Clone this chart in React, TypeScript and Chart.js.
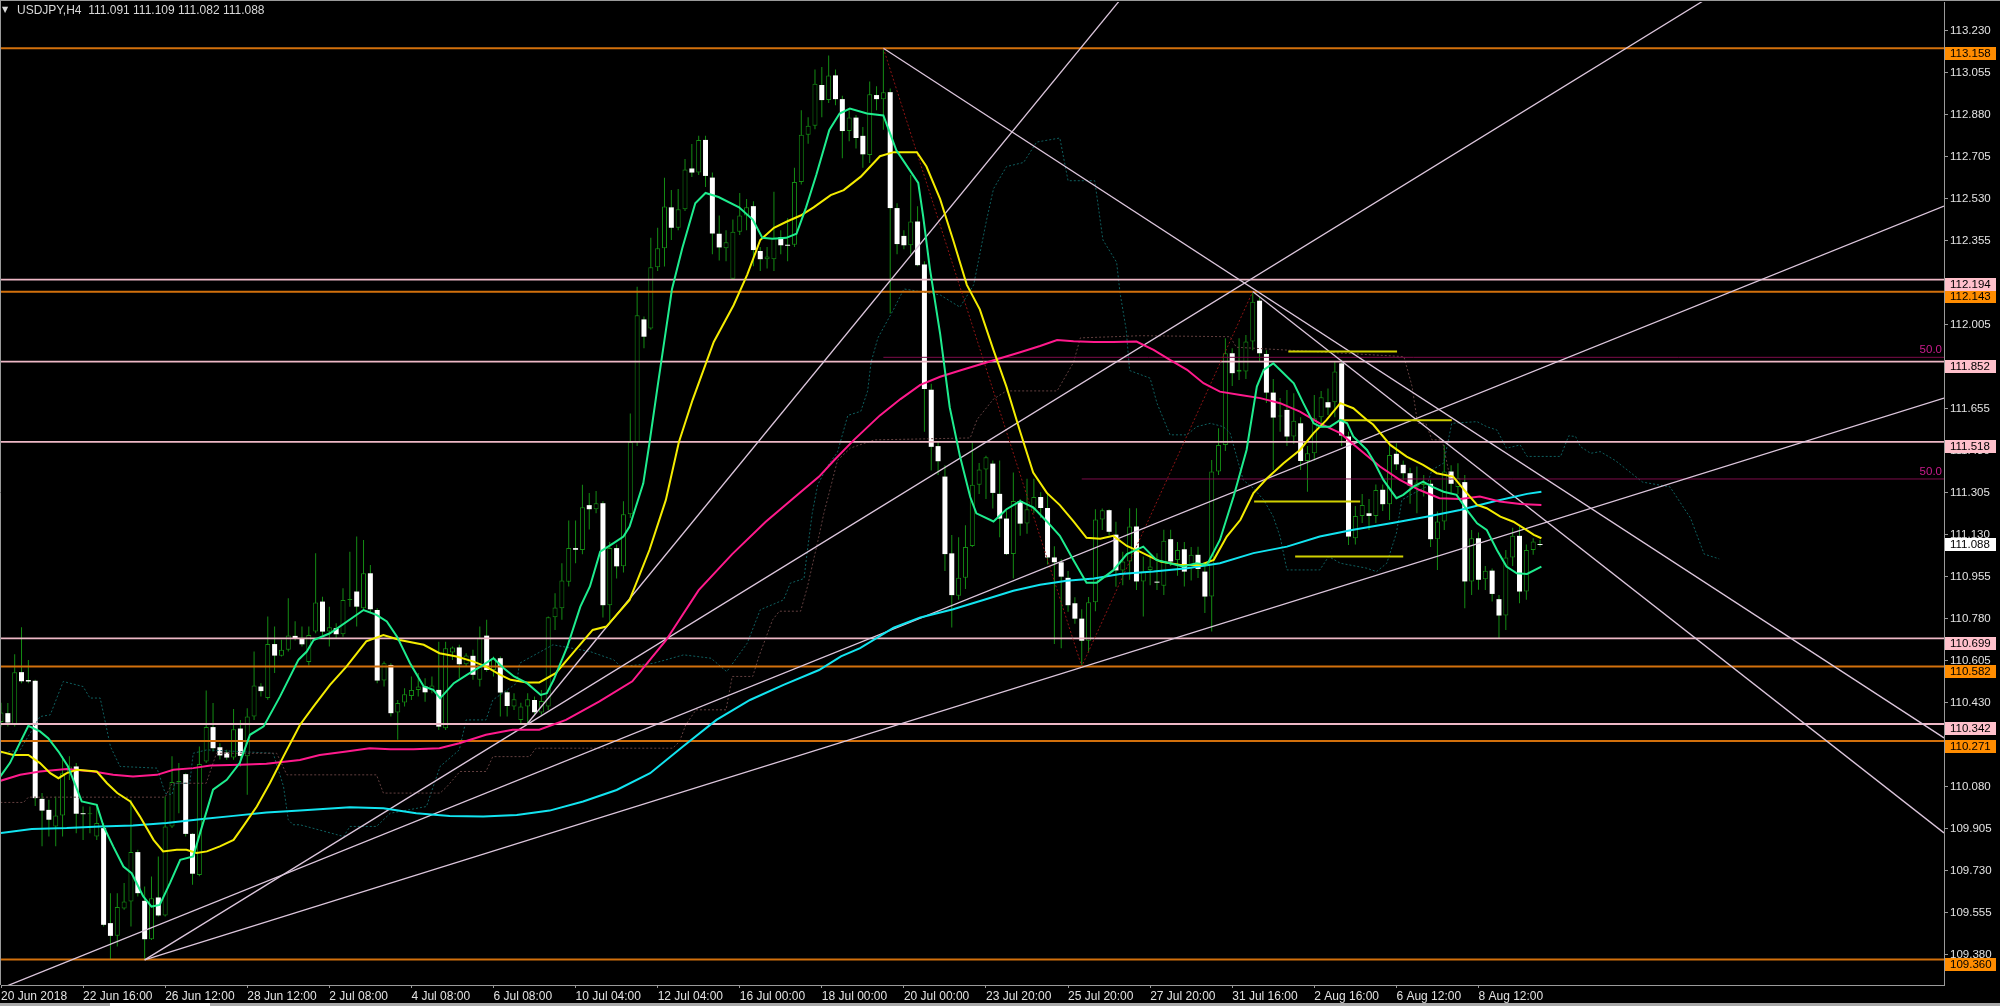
import React, { useEffect, useRef } from "react";
import { Chart, registerables } from "chart.js";

Chart.register(...registerables);

// ---------------- DATA ----------------
const TITLE = "USDJPY,H4  111.091 111.109 111.082 111.088";

const openP = [
110.350,110.387,110.341,110.558,110.525,110.522,110.030,109.984,109.915,109.961,
110.137,110.165,109.970,109.966,109.873,109.908,109.512,109.459,109.573,109.602,
109.808,109.605,109.445,109.619,109.544,109.915,110.100,110.133,109.884,109.713,
110.186,110.329,110.245,110.223,110.202,110.323,110.207,110.373,110.498,110.450,
110.675,110.626,110.651,110.709,110.697,110.600,110.727,110.852,110.727,110.741,
110.716,110.859,110.894,110.824,110.970,110.817,110.523,110.588,110.390,110.431,
110.459,110.484,110.498,110.484,110.484,110.324,110.640,110.661,110.591,110.626,
110.526,110.710,110.567,110.616,110.474,110.415,110.359,110.415,110.442,110.390,
110.415,110.787,110.824,110.935,111.075,111.067,111.254,111.237,111.262,110.837,
111.075,110.999,111.216,111.517,112.028,111.990,112.245,112.325,112.495,112.410,
112.487,112.657,112.640,112.776,112.619,112.385,112.325,112.197,112.393,112.461,
112.500,112.313,112.279,112.279,112.370,112.339,112.339,112.601,112.798,112.835,
113.005,112.942,113.045,112.946,112.813,112.869,112.793,112.713,112.963,112.946,
112.975,112.492,112.376,112.337,112.436,112.257,111.735,111.500,111.373,111.053,
110.876,110.951,111.084,111.339,111.403,111.427,111.301,111.198,111.050,111.271,
111.177,111.237,111.288,111.242,111.036,111.016,110.951,110.845,110.781,110.689,
110.849,111.194,111.233,111.131,110.982,111.019,111.165,110.936,110.984,110.933,
110.918,111.112,111.025,111.070,110.991,111.047,110.977,110.873,111.394,111.505,
111.887,111.810,111.811,111.936,112.106,111.884,111.723,111.623,111.651,111.540,
111.595,111.438,111.470,111.620,111.683,111.683,111.845,111.540,111.116,111.209,
111.220,111.209,111.318,111.258,111.468,111.422,111.387,111.331,111.338,111.343,
111.112,111.186,111.394,111.330,111.350,110.936,111.116,110.945,110.981,110.862,
110.794,111.036,111.126,110.894,111.067,111.091
];

const highP = [
110.430,110.429,110.633,110.745,110.609,110.526,110.054,110.026,110.040,110.207,
110.207,110.179,109.998,109.998,110.000,109.929,109.637,109.637,109.679,110.026,
109.818,109.665,109.706,109.790,110.040,110.207,110.179,110.137,109.887,110.248,
110.482,110.429,110.262,110.235,110.404,110.359,110.408,110.644,110.512,110.790,
110.748,110.693,110.866,110.770,110.748,110.748,111.054,110.872,110.831,110.762,
110.908,111.060,111.123,111.109,111.005,110.824,110.602,110.595,110.442,110.491,
110.540,110.554,110.533,110.540,110.685,110.685,110.665,110.672,110.637,110.651,
110.748,110.776,110.623,110.623,110.480,110.470,110.430,110.470,110.456,110.484,
110.790,110.887,111.012,111.190,111.190,111.339,111.305,111.313,111.270,111.100,
111.090,111.270,111.636,112.164,112.040,112.368,112.410,112.618,112.567,112.572,
112.696,112.759,112.793,112.793,112.640,112.461,112.400,112.444,112.555,112.530,
112.520,112.330,112.330,112.560,112.400,112.450,112.660,112.900,112.870,113.070,
113.080,113.128,113.070,112.960,112.900,112.880,112.830,113.020,113.000,113.158,
112.990,112.512,112.400,112.630,112.500,112.270,111.760,111.520,111.420,111.130,
111.120,111.170,111.517,111.430,111.460,111.440,111.440,111.230,111.390,111.280,
111.364,111.364,111.308,111.308,111.083,111.030,110.980,110.870,110.820,110.871,
111.237,111.240,111.237,111.185,111.060,111.241,111.241,111.040,111.050,111.053,
111.151,111.151,111.100,111.100,111.080,111.081,111.000,111.442,111.574,111.950,
111.908,111.950,111.963,112.144,112.120,111.900,111.780,111.700,111.734,111.720,
111.620,111.500,111.713,111.730,111.740,111.850,111.860,111.560,111.250,111.300,
111.280,111.340,111.340,111.512,111.512,111.440,111.410,111.415,111.380,111.360,
111.227,111.505,111.420,111.429,111.380,111.150,111.140,111.000,110.990,110.880,
111.067,111.160,111.165,111.090,111.116,111.109
];

const lowP = [
110.330,110.332,110.332,110.512,110.512,110.000,109.832,109.873,109.832,109.873,
110.109,109.887,109.859,109.887,109.859,109.498,109.359,109.415,109.568,109.498,
109.623,109.359,109.442,109.540,109.540,109.908,109.970,109.873,109.672,109.707,
110.179,110.227,110.194,110.193,110.193,110.165,110.047,110.359,110.457,110.443,
110.554,110.623,110.644,110.690,110.665,110.586,110.720,110.713,110.665,110.700,
110.706,110.831,110.748,110.820,110.804,110.512,110.498,110.373,110.276,110.415,
110.442,110.456,110.435,110.470,110.317,110.317,110.609,110.533,110.581,110.526,
110.498,110.560,110.540,110.373,110.373,110.400,110.345,110.345,110.380,110.380,
110.400,110.734,110.776,110.915,111.012,111.049,111.152,111.220,110.786,110.769,
110.948,110.973,111.200,111.500,111.908,111.985,112.230,112.249,112.359,112.400,
112.480,112.622,112.630,112.580,112.300,112.274,112.270,112.197,112.380,112.400,
112.250,112.230,112.240,112.230,112.300,112.270,112.330,112.590,112.760,112.820,
112.870,112.930,112.920,112.700,112.770,112.740,112.660,112.680,112.900,112.818,
112.053,112.300,112.320,112.300,112.250,111.560,111.398,111.380,110.980,110.744,
110.860,110.905,111.080,111.300,111.280,111.240,111.120,111.046,110.948,111.126,
111.135,111.220,111.200,111.007,110.675,110.658,110.810,110.760,110.582,110.640,
110.812,111.150,111.130,110.914,110.920,110.943,110.900,110.790,110.920,110.900,
110.880,111.000,110.960,110.915,110.940,110.950,110.804,110.727,111.380,111.480,
111.750,111.776,111.780,111.900,111.850,111.680,111.400,111.560,111.500,111.510,
111.400,111.310,111.440,111.580,111.630,111.620,111.500,111.088,111.090,111.180,
111.150,111.180,111.230,111.192,111.400,111.360,111.260,111.220,111.290,111.080,
110.984,111.150,111.300,111.300,110.824,110.880,110.901,110.900,110.852,110.700,
110.734,111.000,110.845,110.860,111.047,111.082
];

const closeP = [
110.390,110.348,110.558,110.520,110.519,110.033,109.981,109.943,109.961,110.137,
110.165,109.968,109.966,109.968,109.929,109.505,109.459,109.579,109.602,109.808,
109.637,109.445,109.616,109.544,109.915,110.100,110.104,109.884,109.718,110.175,
110.329,110.241,110.211,110.202,110.320,110.209,110.373,110.502,110.479,110.675,
110.627,110.651,110.711,110.697,110.674,110.713,110.848,110.727,110.745,110.716,
110.859,110.862,110.831,110.970,110.820,110.523,110.595,110.387,110.429,110.466,
110.484,110.498,110.474,110.502,110.331,110.658,110.661,110.591,110.627,110.547,
110.699,110.567,110.616,110.473,110.417,110.445,110.415,110.445,110.391,110.438,
110.787,110.827,110.940,111.075,111.068,111.245,111.237,111.262,110.837,111.075,
110.999,111.216,111.517,112.045,111.956,112.245,112.325,112.499,112.410,112.487,
112.653,112.640,112.776,112.626,112.386,112.328,112.350,112.393,112.461,112.495,
112.317,112.279,112.290,112.368,112.337,112.335,112.601,112.798,112.835,113.010,
112.942,113.045,112.946,112.813,112.869,112.784,112.716,112.966,112.946,112.975,
112.492,112.342,112.337,112.436,112.254,111.738,111.497,111.437,111.050,110.879,
110.951,111.080,111.339,111.403,111.454,111.305,111.198,111.050,111.271,111.177,
111.237,111.288,111.242,111.036,111.016,110.956,110.837,110.781,110.689,110.849,
111.194,111.233,111.143,110.982,111.019,111.165,110.936,110.977,110.998,110.931,
111.106,111.019,111.067,110.977,111.047,110.988,110.873,111.394,111.505,111.887,
111.804,111.818,111.936,112.102,111.887,111.723,111.619,111.625,111.540,111.606,
111.438,111.470,111.616,111.704,111.661,111.811,111.544,111.123,111.209,111.255,
111.209,111.317,111.258,111.463,111.424,111.387,111.336,111.348,111.345,111.112,
111.186,111.394,111.343,111.366,110.936,111.116,110.943,110.981,110.884,110.794,
111.036,111.126,110.894,111.067,111.102,111.088
];

const xTickBars = [0,12,24,36,48,60,72,84,96,108,120,132,144,156,168,180,192,204,216];
const xTickLabels = ["20 Jun 2018","22 Jun 16:00","26 Jun 12:00","28 Jun 12:00","2 Jul 08:00","4 Jul 08:00","6 Jul 08:00","10 Jul 04:00","12 Jul 04:00","16 Jul 00:00","18 Jul 00:00","20 Jul 00:00","23 Jul 20:00","25 Jul 20:00","27 Jul 20:00","31 Jul 16:00","2 Aug 16:00","6 Aug 12:00","8 Aug 12:00"];
const yTickValues = [109.380,109.555,109.730,109.905,110.080,110.255,110.430,110.605,110.780,110.955,111.130,111.305,111.480,111.655,111.830,112.005,112.180,112.355,112.530,112.705,112.880,113.055,113.230];

const orangeLevels = [113.158, 112.143, 110.582, 110.271, 109.360];
const pinkLevels = [112.194, 111.852, 111.518, 110.699, 110.342];
const currentPrice = 111.088;

const fibStartBars = [129, 158];
const fibLevels = [111.870, 111.363];
const fibLabel = "50.0";

// trend lines: [bar, price] start and end
const trendLines: [number, number][][] = [
  [[77, 110.345], [180, 113.930]],
  [[21, 109.359], [284.06, 113.973]],
  [[-3, 109.206], [284.06, 112.500]],
  [[21, 109.359], [284.06, 111.700]],
  [[129, 113.158], [284.06, 110.284]],
  [[183, 112.144], [284.06, 109.888]],
];

const yellowStartBars = [188.2, 195.6, 183.2, 189.2];
const yellowEndBars = [204.1, 212.1, 198.7, 205.0];
const yellowLevels = [111.894, 111.608, 111.269, 111.040];

const zigzagPts: [number, number][] = [[129, 113.158], [158, 110.582], [183, 112.144]];

const greenMa: [number, number][] = [[-0.1,110.123],[1.3,110.179],[4.0,110.334],[5.7,110.311],[6.9,110.283],[8.4,110.227],[9.8,110.165],[11.8,110.019],[14.0,110.005],[15.0,109.915],[16.4,109.832],[17.9,109.748],[19.1,109.720],[20.8,109.623],[22.0,109.581],[23.2,109.588],[24.7,109.679],[26.2,109.776],[28.1,109.790],[29.1,109.887],[31.0,110.068],[33.0,110.109],[34.9,110.179],[36.4,110.297],[38.4,110.332],[40.8,110.457],[43.5,110.610],[44.7,110.644],[45.7,110.692],[48.1,110.720],[53.0,110.817],[54.9,110.797],[56.4,110.769],[57.9,110.706],[59.8,110.595],[61.8,110.498],[63.2,110.484],[64.2,110.449],[66.2,110.512],[68.1,110.547],[70.1,110.581],[72.0,110.616],[73.5,110.574],[75.0,110.540],[76.9,110.512],[78.9,110.463],[79.8,110.470],[80.8,110.526],[82.8,110.665],[84.7,110.831],[86.1,110.915],[87.6,111.060],[89.5,111.095],[91.0,111.123],[91.9,111.165],[93.9,111.345],[94.8,111.512],[96.0,111.750],[98.1,112.155],[99.6,112.325],[101.5,112.512],[103.0,112.555],[104.9,112.538],[107.9,112.495],[109.9,112.444],[111.3,112.368],[112.8,112.364],[114.8,112.368],[116.3,112.385],[117.7,112.495],[119.2,112.631],[121.1,112.818],[122.6,112.886],[124.1,112.907],[126.6,112.886],[129.0,112.878],[130.9,112.733],[132.9,112.648],[134.1,112.597],[134.8,112.461],[135.8,112.240],[137.3,111.968],[138.7,111.662],[140.2,111.458],[141.7,111.288],[142.6,111.220],[145.1,111.186],[147.0,111.237],[149.0,111.271],[150.9,111.245],[152.9,111.186],[154.8,111.126],[156.8,111.024],[158.7,110.931],[160.2,110.931],[162.6,110.982],[164.6,111.050],[167.0,111.081],[168.9,111.026],[170.9,111.012],[172.8,110.998],[174.8,111.012],[176.3,111.005],[178.2,111.109],[180.2,111.290],[182.1,111.484],[183.6,111.748],[184.6,111.818],[186.0,111.845],[187.5,111.804],[189.0,111.762],[190.4,111.679],[191.9,111.595],[192.9,111.581],[194.3,111.581],[195.8,111.609],[196.8,111.595],[197.7,111.540],[199.7,111.484],[200.6,111.442],[202.1,111.359],[204.0,111.283],[205.0,111.297],[206.5,111.331],[207.9,111.352],[209.2,111.331],[210.9,111.310],[212.8,111.297],[214.3,111.234],[215.8,111.178],[217.2,111.151],[218.7,111.067],[220.1,110.998],[221.6,110.970],[223.1,110.967],[225.2,110.998]];

const yellowMa: [number, number][] = [[-0.1,110.227],[1.8,110.213],[4.0,110.213],[5.7,110.179],[7.2,110.137],[8.4,110.116],[9.6,110.137],[11.1,110.151],[14.0,110.144],[15.5,110.095],[17.0,110.054],[18.9,110.019],[20.3,109.957],[22.3,109.859],[23.7,109.811],[25.7,109.818],[27.1,109.818],[28.6,109.804],[30.1,109.811],[32.0,109.832],[34.0,109.859],[35.4,109.915],[37.4,109.998],[39.3,110.095],[41.3,110.207],[43.7,110.338],[45.7,110.415],[48.1,110.505],[50.5,110.581],[53.4,110.686],[55.9,110.713],[58.3,110.692],[61.8,110.672],[64.1,110.637],[66.6,110.623],[69.1,110.602],[70.9,110.581],[73.0,110.547],[74.5,110.526],[76.9,110.515],[78.7,110.515],[81.1,110.554],[83.6,110.637],[86.5,110.734],[88.5,110.748],[91.9,110.859],[94.8,111.067],[97.2,111.276],[99.1,111.516],[101.1,111.692],[104.2,111.934],[107.1,112.087],[109.1,112.215],[111.0,112.359],[113.0,112.410],[114.9,112.436],[116.9,112.461],[118.8,112.495],[121.3,112.546],[123.2,112.567],[125.7,112.623],[128.5,112.708],[130.5,112.725],[133.9,112.725],[135.3,112.665],[137.3,112.529],[139.2,112.359],[141.2,112.172],[143.1,112.070],[145.1,111.900],[147.0,111.747],[149.0,111.560],[150.9,111.390],[152.9,111.305],[154.8,111.254],[156.8,111.186],[158.7,111.118],[160.7,111.114],[162.6,111.126],[164.6,111.084],[166.5,111.060],[169.5,111.019],[172.4,111.005],[175.3,111.005],[177.3,111.026],[179.2,111.123],[181.2,111.193],[183.1,111.304],[185.1,111.366],[187.5,111.429],[189.9,111.484],[191.9,111.554],[193.8,111.609],[195.8,111.679],[197.7,111.658],[199.7,111.609],[200.6,111.590],[203.1,111.505],[205.5,111.456],[207.9,111.422],[209.9,111.387],[212.3,111.373],[214.3,111.304],[215.8,111.255],[217.2,111.241],[219.2,111.206],[221.1,111.185],[222.6,111.158],[224.1,111.130],[225.2,111.116]];

const magentaMa: [number, number][] = [[-0.1,110.105],[2.8,110.130],[5.7,110.144],[9.6,110.154],[13.5,110.144],[16.4,110.130],[19.3,110.123],[22.8,110.130],[25.2,110.151],[28.1,110.158],[30.6,110.169],[35.0,110.172],[38.8,110.176],[43.7,110.192],[46.6,110.213],[50.5,110.227],[53.9,110.241],[56.9,110.237],[60.3,110.237],[64.1,110.241],[67.0,110.262],[70.9,110.297],[74.8,110.318],[78.7,110.318],[82.6,110.359],[87.5,110.436],[92.3,110.520],[97.2,110.690],[102.0,110.900],[106.9,111.050],[111.8,111.185],[116.7,111.304],[119.6,111.373],[121.8,111.441],[124.7,111.526],[128.5,111.628],[131.5,111.696],[134.4,111.755],[137.3,111.789],[140.2,111.815],[143.1,111.840],[146.1,111.866],[149.0,111.891],[151.9,111.917],[154.4,111.942],[156.8,111.937],[159.8,111.934],[162.6,111.934],[166.0,111.936],[168.5,111.901],[170.9,111.859],[173.4,111.818],[175.8,111.762],[178.2,111.727],[181.2,111.713],[184.1,111.700],[187.0,111.679],[189.9,111.644],[192.8,111.595],[195.8,111.554],[198.7,111.484],[201.6,111.415],[204.5,111.359],[207.4,111.317],[210.3,111.283],[213.3,111.280],[216.2,111.290],[219.1,111.269],[222.1,111.259],[225.2,111.255]];

const cyanMa: [number, number][] = [[-0.1,109.887],[4.5,109.904],[9.6,109.908],[14.5,109.915],[19.3,109.919],[24.2,109.929],[29.1,109.945],[34.0,109.959],[38.8,109.973],[43.7,109.981],[51.0,109.995],[55.9,109.991],[60.7,109.970],[65.6,109.959],[70.5,109.956],[75.4,109.963],[80.2,109.981],[85.1,110.019],[90.0,110.067],[94.9,110.137],[99.7,110.248],[104.6,110.359],[109.5,110.442],[114.4,110.505],[119.6,110.567],[122.8,110.624],[125.6,110.658],[130.5,110.743],[134.4,110.786],[139.2,110.820],[144.1,110.863],[148.0,110.897],[151.9,110.922],[155.8,110.939],[159.8,110.948],[163.6,110.967],[168.5,110.977],[173.4,110.991],[178.2,111.012],[183.1,111.054],[188.0,111.081],[192.8,111.123],[197.7,111.151],[203.6,111.181],[208.4,111.206],[213.3,111.234],[218.2,111.269],[223.1,111.301],[225.2,111.310]];

const tealSpanBars = [-0.1,2.8,5.7,7.2,9.1,12.0,13.0,14.5,16.0,17.4,22.8,24.0,25.0,25.4,27.6,28.1,30.1,39.8,41.3,42.0,42.7,43.7,50.1,51.0,54.9,56.9,62.2,64.2,67.0,68.0,70.9,71.9,75.4,75.8,80.7,86.1,89.6,90.6,95.4,99.8,103.8,106.1,109.1,111.0,114.4,115.4,117.4,117.9,118.6,119.4,120.8,122.3,123.8,125.7,126.7,127.2,128.2,130.5,132.0,137.3,140.2,142.2,144.1,145.1,147.0,149.5,151.4,154.8,156.0,159.9,161.1,163.1,163.6,164.5,165.0,168.0,169.0,170.9,173.4,174.8,176.8,178.7,179.7,181.6,183.1,184.6,186.0,187.0,188.0,192.8,194.1,195.8,199.7,201.1,202.6,204.0,204.8,206.5,208.4,209.2,210.9,212.1,215.8,217.2,218.7,220.1,222.1,223.1,228.0,229.2,230.2,230.9,232.4,233.8,236.0,240.0,244.0,247.0,249.0,251.2];
const tealSpanPrices = [110.220,110.234,110.373,110.380,110.519,110.498,110.450,110.450,110.248,110.165,110.158,110.054,110.047,110.095,110.095,110.220,110.234,110.220,110.082,109.943,109.922,109.922,109.873,109.915,109.915,109.970,109.998,110.165,110.234,110.359,110.359,110.442,110.512,110.595,110.672,110.644,110.609,110.581,110.595,110.630,110.616,110.560,110.679,110.818,110.859,110.929,110.948,111.067,111.220,111.339,111.415,111.475,111.628,111.645,111.730,111.849,111.951,112.070,112.155,112.130,112.079,112.172,112.444,112.572,112.665,112.682,112.767,112.784,112.606,112.606,112.359,112.266,112.138,111.985,111.815,111.783,111.679,111.547,111.547,111.581,111.595,111.581,111.554,111.359,111.324,111.276,111.206,111.123,110.984,110.984,111.040,111.012,110.991,110.977,111.012,111.137,111.276,111.303,111.331,111.401,111.429,111.595,111.602,111.581,111.567,111.491,111.505,111.457,111.457,111.543,111.540,111.498,111.470,111.477,111.440,111.350,111.330,111.200,111.050,111.030];

const brownSpanBars = [-0.1,3.3,4.0,24.0,25.0,30.0,31.5,40.3,41.8,54.9,55.9,64.2,65.2,67.1,70.9,71.9,77.3,78.2,98.2,99.2,100.1,101.6,106.0,106.9,109.9,110.8,112.8,113.8,116.9,117.9,119.4,120.3,121.3,122.3,124.2,127.7,141.7,142.7,145.1,147.0,154.4,156.8,157.8,166.6,179.7,180.6,205.1,206.3,207.1,208.3,209.2,210.7,211.9];
const brownSpanPrices = [110.015,110.015,110.037,110.037,110.095,110.095,110.220,110.220,110.130,110.130,110.054,110.054,110.081,110.144,110.144,110.206,110.206,110.241,110.241,110.269,110.338,110.401,110.401,110.540,110.540,110.623,110.776,110.812,110.812,110.914,111.101,111.220,111.330,111.441,111.492,111.526,111.534,111.611,111.696,111.730,111.730,111.849,111.951,111.960,111.956,111.912,111.873,111.748,111.595,111.595,111.526,111.526,111.359];

// ---------------- STYLE ----------------
const FONT = "'Liberation Sans', Arial, sans-serif";
const Y_MIN = 109.2542;
const Y_MAX = 113.3508;
const X_MIN = 0;
const X_MAX = 284.06;
const WICK = "#148C14";
const AXIS = "#9a9a9a";
const TXT = "#E2E2E2";

function lineDs(points: { x: number; y: number }[], color: string, width: number, order: number, dash: number[] = []) {
  return {
    type: "line" as const,
    data: points,
    borderColor: color,
    backgroundColor: color,
    borderWidth: width,
    borderDash: dash,
    pointRadius: 0,
    pointHoverRadius: 0,
    fill: false,
    tension: 0,
    order,
  };
}

const toPts = (arr: [number, number][]) => arr.map(([x, y]) => ({ x, y }));
const zipPts = (xs: number[], ys: number[]) => xs.map((x, i) => ({ x, y: ys[i] }));

const bgPlugin = {
  id: "mtBg",
  beforeDraw(chart: any) {
    const { ctx, width, height } = chart;
    ctx.save();
    ctx.fillStyle = "#000";
    ctx.fillRect(0, 0, width, height);
    ctx.restore();
  },
};

const overlayPlugin = {
  id: "mtOverlay",
  afterDraw(chart: any) {
    const { ctx, chartArea } = chart;
    const ys = chart.scales.y;
    ctx.save();
    // frame
    ctx.strokeStyle = AXIS;
    ctx.lineWidth = 1;
    ctx.beginPath();
    ctx.moveTo(0.5, 0);
    ctx.lineTo(0.5, chartArea.bottom);
    ctx.moveTo(0, 0.5);
    ctx.lineTo(chart.width, 0.5);
    ctx.stroke();

    // fibo labels
    ctx.font = `11.5px ${FONT}`;
    ctx.textBaseline = "middle";
    ctx.textAlign = "right";
    ctx.fillStyle = "#CC1C8E";
    fibLevels.forEach((v) => ctx.fillText(fibLabel, chartArea.right - 2, ys.getPixelForValue(v) - 7));

    // title
    ctx.font = `12px ${FONT}`;
    ctx.textAlign = "left";
    ctx.fillStyle = "#D8D8D8";
    ctx.fillText(TITLE, 17, 11);
    ctx.font = `8px 'DejaVu Sans', sans-serif`;
    ctx.fillText("\u25BC", 2, 10);

    // price tags
    ctx.font = `11.5px ${FONT}`;
    const tagX = chartArea.right + 1;
    const tagW = chart.width - tagX - 4;
    const drawTag = (v: number, bg: string, centered: boolean) => {
      const py = ys.getPixelForValue(v);
      const top = centered ? py - 6.5 : py - 1.5;
      ctx.fillStyle = bg;
      ctx.fillRect(tagX, Math.round(top), tagW, 13);
      ctx.fillStyle = "#000";
      ctx.fillText(v.toFixed(3), tagX + 5, Math.round(top) + 7);
    };
    orangeLevels.forEach((v) => drawTag(v, "#FF8C00", false));
    pinkLevels.forEach((v) => drawTag(v, "#FFC0CB", false));
    drawTag(currentPrice, "#FFFFFF", true);

    // bottom tab strip
    ctx.fillStyle = "#A8A8A8";
    ctx.fillRect(0, chart.height - 3, chart.width, 3);
    ctx.fillStyle = "#FFFFFF";
    ctx.fillRect(110, chart.height - 3, 100, 3);
    ctx.restore();
  },
};

export default function App() {
  const ref = useRef<HTMLCanvasElement>(null);

  useEffect(() => {
    document.body.style.margin = "0";
    document.body.style.background = "#000";
    const canvas = ref.current;
    if (!canvas) return;

    const wicks: any[] = [];
    const bull: any[] = [];
    const bear: any[] = [];
    for (let i = 0; i < openP.length; i++) {
      wicks.push({ x: i, y: [lowP[i], highP[i]] });
      const item = { x: i, y: [openP[i], closeP[i]] };
      if (closeP[i] >= openP[i]) bull.push(item);
      else bear.push(item);
    }

    const datasets: any[] = [];
    datasets.push({
      type: "bar", data: wicks, backgroundColor: WICK, borderWidth: 0,
      maxBarThickness: 1, barPercentage: 1, grouped: false, inflateAmount: 0, minBarLength: 1, order: 100,
    });
    datasets.push({
      type: "bar", data: bull, backgroundColor: "#000000", borderColor: WICK, borderWidth: 1, borderSkipped: false,
      maxBarThickness: 5, barPercentage: 1, grouped: false, inflateAmount: 0, minBarLength: 1, order: 95,
    });
    datasets.push({
      type: "bar", data: bear, backgroundColor: "#FFFFFF", borderColor: "#FFFFFF", borderWidth: 0,
      maxBarThickness: 5, barPercentage: 1, grouped: false, inflateAmount: 0, minBarLength: 1, order: 94,
    });

    // ichimoku-like dotted spans
    datasets.push(lineDs(zipPts(tealSpanBars, tealSpanPrices), "#0F6060", 1, 90, [2, 2]));
    datasets.push(lineDs(zipPts(brownSpanBars, brownSpanPrices), "#623F3F", 1, 89, [2, 2]));

    // horizontal levels
    orangeLevels.forEach((v) =>
      datasets.push(lineDs([{ x: X_MIN, y: v }, { x: X_MAX, y: v }], "#D2700C", 2, 80)));
    pinkLevels.forEach((v) =>
      datasets.push(lineDs([{ x: X_MIN, y: v }, { x: X_MAX, y: v }], "#EEB8C6", 1.8, 80)));
    fibLevels.forEach((v, k) =>
      datasets.push(lineDs([{ x: fibStartBars[k], y: v }, { x: X_MAX, y: v }], "#7C0C4A", 1, 79)));

    // zigzag
    datasets.push(lineDs(toPts(zigzagPts), "#8E1414", 1, 78, [2, 2]));

    // trend lines
    trendLines.forEach((seg) => datasets.push(lineDs(toPts(seg), "#DCC6DC", 1.3, 70)));

    // yellow short segments
    yellowLevels.forEach((v, k) =>
      datasets.push(lineDs([{ x: yellowStartBars[k], y: v }, { x: yellowEndBars[k], y: v }], "#D0D000", 2, 60)));

    // moving averages
    datasets.push(lineDs(toPts(cyanMa), "#12E4F0", 2, 40));
    datasets.push(lineDs(toPts(magentaMa), "#FF1A8C", 2, 30));
    datasets.push(lineDs(toPts(yellowMa), "#F4EC00", 2, 20));
    datasets.push(lineDs(toPts(greenMa), "#1EEC8E", 2, 10));

    const chart = new Chart(canvas, {
      type: "bar",
      data: { datasets },
      options: {
        animation: false,
        responsive: false,
        maintainAspectRatio: false,
        devicePixelRatio: 1,
        events: [],
        layout: { padding: { left: 1, top: 2, right: 0, bottom: 0 } },
        plugins: {
          legend: { display: false },
          tooltip: { enabled: false },
          title: { display: false },
        },
        scales: {
          x: {
            type: "linear",
            min: X_MIN,
            max: X_MAX,
            offset: false,
            grid: { display: true, drawOnChartArea: false, drawTicks: true, tickLength: 3, color: AXIS, offset: false },
            border: { display: true, color: AXIS, width: 1 },
            ticks: {
              autoSkip: false,
              maxRotation: 0,
              minRotation: 0,
              align: "start",
              padding: 1,
              color: TXT,
              font: { family: FONT, size: 12 },
              callback: (value: any) => {
                const k = xTickBars.indexOf(Number(value));
                return k >= 0 ? xTickLabels[k] : "";
              },
            },
            afterBuildTicks: (scale: any) => {
              scale.ticks = xTickBars.map((v) => ({ value: v }));
            },
            afterFit: (scale: any) => {
              scale.height = 21;
              scale.paddingLeft = 0;
              scale.paddingRight = 0;
            },
          },
          y: {
            type: "linear",
            position: "right",
            min: Y_MIN,
            max: Y_MAX,
            grid: { display: true, drawOnChartArea: false, drawTicks: true, tickLength: 4, color: AXIS },
            border: { display: true, color: AXIS, width: 1 },
            ticks: {
              autoSkip: false,
              padding: 2,
              color: TXT,
              font: { family: FONT, size: 11.5 },
              callback: (value: any) => Number(value).toFixed(3),
            },
            afterBuildTicks: (scale: any) => {
              scale.ticks = yTickValues.map((v) => ({ value: v }));
            },
            afterFit: (scale: any) => {
              scale.width = 56;
              scale.paddingTop = 0;
              scale.paddingBottom = 0;
            },
          },
        },
      } as any,
      plugins: [bgPlugin, overlayPlugin],
    });

    return () => chart.destroy();
  }, []);

  return (
    <div style={{ width: 2000, height: 1006, background: "#000" }}>
      <canvas ref={ref} width={2000} height={1006} style={{ display: "block" }} />
    </div>
  );
}
